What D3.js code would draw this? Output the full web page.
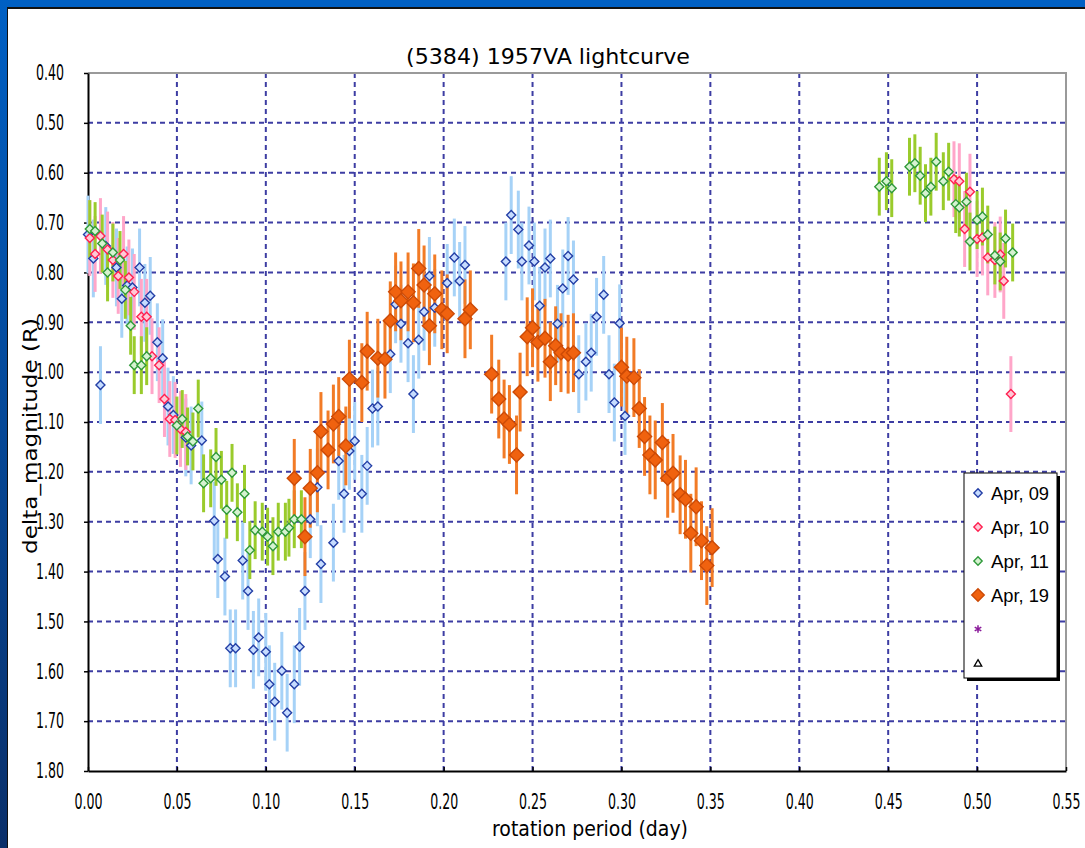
<!DOCTYPE html>
<meta charset="utf-8">
<style>
body { margin: 0; background: #fff; }
text { font-family: "DejaVu Sans Condensed", "Liberation Sans", sans-serif; fill: #000; }
.legend text { font-family: "Liberation Sans", Arial, sans-serif; }
</style>
<svg width="1085" height="848"></svg>
<script src="https://d3js.org/d3.v7.min.js"></script>
<script>

// tick values
var xTicks = [0, 0.05, 0.10, 0.15, 0.20, 0.25, 0.30, 0.35, 0.40, 0.45, 0.50, 0.55];
var yTicks = [0.4, 0.5, 0.6, 0.7, 0.8, 0.9, 1.0, 1.1, 1.2, 1.3, 1.4, 1.5, 1.6, 1.7, 1.8];

// series: [phase (day), delta mag]
var apr09 = [[0.000,0.724],[0.003,0.772],[0.007,1.026],[0.010,0.747],[0.016,0.790],[0.019,0.853],[0.022,0.826],[0.025,0.830],[0.029,0.790],[0.032,0.861],[0.035,0.847],[0.039,0.940],[0.042,0.972],[0.045,1.069],[0.048,1.086],[0.055,1.131],[0.058,1.147],[0.064,1.137],[0.071,1.298],[0.073,1.375],[0.077,1.410],[0.080,1.554],[0.083,1.554],[0.087,1.378],[0.090,1.439],[0.093,1.557],[0.096,1.532],[0.100,1.561],[0.102,1.626],[0.105,1.661],[0.109,1.599],[0.112,1.683],[0.116,1.626],[0.119,1.551],[0.122,1.439],[0.125,1.295],[0.129,1.231],[0.131,1.385],[0.138,1.342],[0.141,1.178],[0.144,1.244],[0.147,1.158],[0.150,1.138],[0.154,1.244],[0.157,1.188],[0.160,1.073],[0.163,1.069],[0.170,0.964],[0.173,0.864],[0.176,0.903],[0.180,0.942],[0.183,1.044],[0.186,0.935],[0.189,0.879],[0.192,0.807],[0.195,0.871],[0.202,0.821],[0.206,0.770],[0.209,0.817],[0.212,0.785],[0.235,0.778],[0.238,0.685],[0.242,0.714],[0.244,0.778],[0.248,0.746],[0.251,0.778],[0.254,0.867],[0.257,0.790],[0.260,0.772],[0.264,0.903],[0.267,0.832],[0.270,0.767],[0.273,0.814],[0.276,1.004],[0.280,0.979],[0.283,0.961],[0.286,0.889],[0.290,0.845],[0.293,1.004],[0.296,1.061],[0.299,0.902],[0.302,1.088]];
var apr10 = [[0.001,0.731],[0.004,0.763],[0.007,0.727],[0.011,0.754],[0.014,0.775],[0.017,0.807],[0.020,0.763],[0.023,0.810],[0.026,0.839],[0.030,0.889],[0.033,0.889],[0.036,0.968],[0.040,0.986],[0.043,1.054],[0.046,1.094],[0.049,1.096],[0.052,1.114],[0.055,1.120],[0.487,0.613],[0.490,0.617],[0.493,0.713],[0.496,0.638],[0.500,0.733],[0.503,0.730],[0.506,0.770],[0.510,0.775],[0.513,0.764],[0.515,0.817],[0.519,1.044]];
var apr11 = [[0.001,0.713],[0.004,0.717],[0.008,0.742],[0.011,0.800],[0.014,0.760],[0.018,0.775],[0.021,0.835],[0.024,0.907],[0.026,0.986],[0.030,0.986],[0.033,0.968],[0.050,1.107],[0.053,1.094],[0.056,1.129],[0.059,1.139],[0.062,1.073],[0.065,1.223],[0.069,1.213],[0.072,1.170],[0.075,1.216],[0.078,1.276],[0.081,1.202],[0.084,1.281],[0.088,1.244],[0.091,1.357],[0.094,1.317],[0.098,1.320],[0.101,1.330],[0.104,1.349],[0.107,1.320],[0.111,1.320],[0.113,1.312],[0.116,1.295],[0.120,1.295],[0.445,0.628],[0.449,0.617],[0.452,0.631],[0.462,0.588],[0.465,0.581],[0.468,0.606],[0.471,0.641],[0.474,0.628],[0.477,0.578],[0.481,0.617],[0.484,0.598],[0.488,0.663],[0.490,0.670],[0.494,0.658],[0.496,0.738],[0.500,0.695],[0.503,0.688],[0.506,0.724],[0.510,0.766],[0.513,0.778],[0.516,0.732],[0.520,0.760]];
var apr19 = [[0.116,1.213],[0.122,1.330],[0.125,1.233],[0.129,1.202],[0.131,1.119],[0.135,1.156],[0.138,1.104],[0.141,1.089],[0.145,1.148],[0.147,1.014],[0.154,1.021],[0.157,0.958],[0.163,0.972],[0.167,0.974],[0.170,0.897],[0.173,0.839],[0.176,0.857],[0.180,0.839],[0.183,0.861],[0.186,0.792],[0.189,0.825],[0.192,0.907],[0.195,0.843],[0.199,0.875],[0.202,0.883],[0.212,0.893],[0.215,0.875],[0.227,1.004],[0.231,1.054],[0.234,1.094],[0.237,1.105],[0.241,1.166],[0.243,1.040],[0.247,0.929],[0.250,0.911],[0.253,0.940],[0.257,0.932],[0.260,0.979],[0.263,0.947],[0.266,0.961],[0.270,0.964],[0.273,0.961],[0.300,0.990],[0.303,1.008],[0.307,1.011],[0.310,1.073],[0.313,1.129],[0.316,1.166],[0.319,1.176],[0.323,1.141],[0.326,1.213],[0.329,1.203],[0.333,1.246],[0.336,1.255],[0.339,1.323],[0.342,1.270],[0.345,1.338],[0.348,1.388],[0.351,1.352]];

var seriesNames = ["Apr, 09", "Apr, 10", "Apr, 11", "Apr, 19"];
var seriesErr = [0.078, 0.076, 0.058, 0.079];

var series = [
  {name: seriesNames[0], data: apr09, err: seriesErr[0], bar: "#a6d2f7", stroke: "#243fa6", fill: "#c6dcff", r: 4.5},
  {name: seriesNames[1], data: apr10, err: seriesErr[1], bar: "#ffa6c9", stroke: "#ff2050", fill: "#ffc8d6", r: 4.5},
  {name: seriesNames[2], data: apr11, err: seriesErr[2], bar: "#9acb2c", stroke: "#2f9a3a", fill: "#d6f2d0", r: 4.5},
  {name: seriesNames[3], data: apr19, err: seriesErr[3], bar: "#f27b26", stroke: "#cc4a06", fill: "#f0620f", r: 7}
];

var svg = d3.select("svg");

// slide background
var defs = svg.append("defs");
var grad = defs.append("linearGradient").attr("id", "side").attr("x1", 0).attr("y1", 0).attr("x2", 0).attr("y2", 1);
grad.append("stop").attr("offset", "0%").attr("stop-color", "#0060c4");
grad.append("stop").attr("offset", "100%").attr("stop-color", "#0a2f6a");
svg.append("rect").attr("width", 1085).attr("height", 848).attr("fill", "#0060c4");
svg.append("rect").attr("x", 0).attr("y", 0).attr("width", 8).attr("height", 848).attr("fill", "url(#side)");
svg.append("rect").attr("x", 7).attr("y", 7).attr("width", 1078).attr("height", 841).attr("fill", "#111");
svg.append("rect").attr("x", 8).attr("y", 9).attr("width", 1077).attr("height", 839).attr("fill", "#fff");

var margin = {top: 73, left: 88, right: 1066, bottom: 771};
var x = d3.scaleLinear().domain([0, 0.55]).range([margin.left, margin.right]);
var y = d3.scaleLinear().domain([0.4, 1.8]).range([margin.top, margin.bottom]);

var g = svg.append("g");

// grid
g.append("g").selectAll("line")
  .data(yTicks.slice(1, -1))
  .enter().append("line")
  .attr("x1", margin.left).attr("x2", margin.right)
  .attr("y1", function(d) { return y(d); }).attr("y2", function(d) { return y(d); })
  .attr("stroke", "#3d3da3").attr("stroke-width", 2).attr("stroke-dasharray", "5,4");
g.append("g").selectAll("line")
  .data(xTicks.slice(1, -1))
  .enter().append("line")
  .attr("y1", margin.top).attr("y2", margin.bottom)
  .attr("x1", function(d) { return x(d); }).attr("x2", function(d) { return x(d); })
  .attr("stroke", "#3d3da3").attr("stroke-width", 2).attr("stroke-dasharray", "5,4");

// frame: grey top/right, black axes
g.append("path")
  .attr("d", "M" + margin.left + "," + margin.top + "H" + margin.right + "V" + margin.bottom)
  .attr("fill", "none").attr("stroke", "#9a9a9a").attr("stroke-width", 2);

var xAxis = g.append("g")
  .attr("transform", "translate(0," + margin.bottom + ")")
  .call(d3.axisBottom(x).tickValues(xTicks).tickFormat(d3.format(".2f")).tickSizeInner(-4).tickSizeOuter(0).tickPadding(23));
var yAxis = g.append("g")
  .attr("transform", "translate(" + margin.left + ",0)")
  .call(d3.axisLeft(y).tickValues(yTicks).tickFormat(d3.format(".2f")).tickSizeInner(4).tickSizeOuter(0).tickPadding(20));
[xAxis, yAxis].forEach(function(a) {
  a.select(".domain").attr("stroke", "#000").attr("stroke-width", 2);
  a.selectAll(".tick line").attr("stroke", "#000").attr("stroke-width", 1.5);
  a.selectAll(".tick text").attr("font-size", 21).attr("fill", "#000")
    .attr("font-family", "'DejaVu Sans Condensed', sans-serif")
    .attr("textLength", 28).attr("lengthAdjust", "spacingAndGlyphs");
});
xAxis.selectAll(".tick text").attr("dy", "0.71em");

// square diamond symbol
var diamond = {
  draw: function(ctx, size) {
    var r = Math.sqrt(size) / 2;
    ctx.moveTo(0, -r); ctx.lineTo(r, 0); ctx.lineTo(0, r); ctx.lineTo(-r, 0); ctx.closePath();
  }
};

// error bars
series.forEach(function(s) {
  g.append("g").selectAll("line")
    .data(s.data)
    .enter().append("line")
    .attr("x1", function(d) { return x(d[0]); }).attr("x2", function(d) { return x(d[0]); })
    .attr("y1", function(d) { return y(d[1] - s.err); }).attr("y2", function(d) { return y(d[1] + s.err); })
    .attr("stroke", s.bar).attr("stroke-width", 3);
});

// markers
series.forEach(function(s) {
  g.append("g").selectAll("path")
    .data(s.data)
    .enter().append("path")
    .attr("transform", function(d) { return "translate(" + x(d[0]) + "," + y(d[1]) + ")"; })
    .attr("d", d3.symbol().type(diamond).size(4 * s.r * s.r))
    .attr("fill", s.fill).attr("stroke", s.stroke).attr("stroke-width", 1.4);
});

// titles
svg.append("text").attr("x", 548).attr("y", 64).attr("text-anchor", "middle")
  .attr("font-size", 22).attr("textLength", 284).attr("lengthAdjust", "spacingAndGlyphs")
  .text("(5384) 1957VA lightcurve");
svg.append("text").attr("x", 590).attr("y", 836).attr("text-anchor", "middle")
  .attr("font-size", 21).attr("textLength", 196).attr("lengthAdjust", "spacingAndGlyphs")
  .text("rotation period (day)");
svg.append("text").attr("transform", "translate(37,436) rotate(-90)").attr("text-anchor", "middle")
  .attr("font-size", 20).attr("textLength", 236).attr("lengthAdjust", "spacingAndGlyphs")
  .text("delta_magnitude (R)");

// legend
var legend = svg.append("g").attr("class", "legend");
legend.append("rect").attr("x", 967).attr("y", 476).attr("width", 93).attr("height", 205).attr("fill", "#000");
legend.append("rect").attr("x", 964).attr("y", 473).attr("width", 93).attr("height", 205)
  .attr("fill", "#fff").attr("stroke", "#000").attr("stroke-width", 1);
var legendY = [493, 527, 561, 595, 629, 663];
series.forEach(function(s, i) {
  legend.append("path")
    .attr("transform", "translate(978," + legendY[i] + ")")
    .attr("d", d3.symbol().type(diamond).size(4 * s.r * s.r * (i == 3 ? 0.8 : 0.85)))
    .attr("fill", s.fill).attr("stroke", s.stroke).attr("stroke-width", 1.4);
  legend.append("text").attr("x", 991).attr("y", legendY[i]).attr("dy", "0.36em")
    .attr("font-size", 19).attr("textLength", 58).attr("lengthAdjust", "spacingAndGlyphs")
    .text(s.name);
});
legend.append("path").attr("transform", "translate(978," + legendY[4] + ")")
  .attr("d", d3.symbol().type(d3.symbolAsterisk).size(40))
  .attr("fill", "none").attr("stroke", "#8a1a9a").attr("stroke-width", 1.5);
legend.append("path").attr("transform", "translate(978," + (legendY[5] + 1) + ")")
  .attr("d", d3.symbol().type(d3.symbolTriangle2).size(40))
  .attr("fill", "none").attr("stroke", "#000").attr("stroke-width", 1.3);

</script>
